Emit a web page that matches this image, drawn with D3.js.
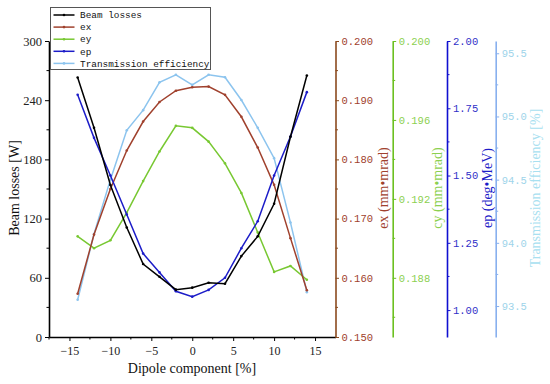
<!DOCTYPE html>
<html>
<head>
<meta charset="utf-8">
<script src="https://cdn.jsdelivr.net/npm/d3@7"></script>
<style>
  body { margin: 0; background: #fff; }
  svg { display: block; }
</style>
</head>
<body>
<div id="chart"></div>
<script>
// data
const dipole = [-14, -12, -10, -8, -6, -4, -2, 0, 2, 4, 6, 8, 10, 12, 14];
const beamLosses = [263, 212, 154, 111, 74, 61, 48, 50, 55, 54, 82, 102, 135, 203, 265];
const ex = [0.1573, 0.1673, 0.1750, 0.1815, 0.1864, 0.1897, 0.1916, 0.1922, 0.1923, 0.1909, 0.1872, 0.1820, 0.1757, 0.1667, 0.1579];
const ey = [0.1901, 0.1895, 0.1899, 0.1913, 0.1929, 0.1944, 0.1957, 0.1956, 0.1949, 0.1938, 0.1923, 0.1903, 0.1883, 0.1886, 0.1879];
const ep = [1.80, 1.64, 1.50, 1.355, 1.21, 1.14, 1.07, 1.05, 1.075, 1.12, 1.23, 1.33, 1.50, 1.645, 1.81];
const trans = [93.55, 94.07, 94.50, 94.89, 95.05, 95.27, 95.33, 95.25, 95.33, 95.31, 95.13, 94.91, 94.67, 94.16, 93.61];

const xTicks = [-15, -10, -5, 0, 5, 10, 15];
const lossTicks = [0, 60, 120, 180, 240, 300];
const exTicks = [0.15, 0.16, 0.17, 0.18, 0.19, 0.20];
const eyTicks = [0.188, 0.192, 0.196, 0.200];
const epTicks = [1.00, 1.25, 1.50, 1.75, 2.00];
const trTicks = [93.5, 94.0, 94.5, 95.0, 95.5];
const legendNames = ["Beam losses", "ex", "ey", "ep", "Transmission efficiency"];

var w = 550, h = 384;
var L = 49, R = 335.5, T = 41, B = 337;
var SERIF = '"Liberation Serif", "Times New Roman", serif';
var MONO = '"Liberation Mono", "DejaVu Sans Mono", monospace';

var svg = d3.select("#chart").append("svg").attr("width", w).attr("height", h);

var x = d3.scaleLinear().domain([-17.5, 17.5]).range([L, R]);
var yLoss = d3.scaleLinear().domain([0, 300]).range([B, T]);
var yEx = d3.scaleLinear().domain([0.15, 0.20]).range([B, T]);
var yEy = d3.scaleLinear().domain([0.185, 0.200]).range([B, T]);
var yEp = d3.scaleLinear().domain([0.9, 2.0]).range([B, T]);
var yTr = d3.scaleLinear().domain([93.255, 95.597]).range([B, T]);

//colors
var cBlack = "#000", cEx = "#a0412d", cEy = "#78c832", cEp = "#1c1cc8", cTr = "#8cc4ee";

// minor ticks helper: draws short ticks
function minor(g, vals, scale, dir, len, col) {
  g.selectAll(null).data(vals).enter().append("line")
    .attr(dir == "x" ? "x1" : "y1", d => scale(d))
    .attr(dir == "x" ? "x2" : "y2", d => scale(d))
    .attr(dir == "x" ? "y1" : "x1", 0)
    .attr(dir == "x" ? "y2" : "x2", len)
    .attr("stroke", col).attr("stroke-width", 1);
}

// x axis
var gx = svg.append("g").attr("transform", "translate(0," + B + ")")
  .call(d3.axisBottom(x).tickValues(xTicks).tickSize(4).tickSizeOuter(0).tickFormat(d => d < 0 ? "\u2212" + Math.abs(d) : d));
gx.select(".domain").attr("stroke-width", 1.6);
gx.selectAll("text").style("font-family", SERIF).style("font-size", "12px").attr("fill", "#222").attr("dy", "0.9em");
minor(gx, [-17.5, -12.5, -7.5, -2.5, 2.5, 7.5, 12.5], x, "x", 2.5, "#000");

// left axis
var gy = svg.append("g").attr("transform", "translate(" + L + ",0)")
  .call(d3.axisLeft(yLoss).tickValues(lossTicks).tickSize(4).tickSizeOuter(0));
gy.select(".domain").attr("stroke-width", 1.6);
gy.selectAll("text").style("font-family", SERIF).style("font-size", "12.5px").attr("fill", "#222");
minor(gy, [30, 90, 150, 210, 270], yLoss, "y", -2.5, "#000");

// right axes
function rightAxis(xpos, scale, ticks, minors, fmt, col, lcol) {
  var g = svg.append("g").attr("transform", "translate(" + xpos + ",0)")
    .call(d3.axisRight(scale).tickValues(ticks).tickSize(3.5).tickSizeOuter(0).tickFormat(fmt));
  g.select(".domain").attr("stroke", col).attr("stroke-width", 1.6);
  g.selectAll(".tick line").attr("stroke", col);
  g.selectAll("text").style("font-family", MONO).style("font-size", "10.5px").attr("fill", lcol)
    .attr("x", 6);
  minor(g, minors, scale, "y", 2.5, col);
  return g;
}
rightAxis(R, yEx, exTicks, [0.155, 0.165, 0.175, 0.185, 0.195], d3.format(".3f"), "#8b4a1e", cEx);
rightAxis(392.7, yEy, eyTicks, [0.186, 0.190, 0.194, 0.198], d3.format(".3f"), "#6cc020", "#8cd050");
rightAxis(447, yEp, epTicks, [1.125, 1.375, 1.625, 1.875], d3.format(".2f"), "#1010d0", "#3030c8");
rightAxis(495.7, yTr, trTicks, [93.75, 94.25, 94.75, 95.25], d3.format(".1f"), "#88b0ee", "#9ed4ea");

// axis titles
function vtitle(xpos, txt, col) {
  svg.append("text").style("font-family", SERIF)
    .attr("transform", "translate(" + xpos + ",188) rotate(-90)")
    .attr("text-anchor", "middle").attr("dy", "0.35em")
    .style("font-size", "14px").attr("fill", col).text(txt);
}
vtitle(14, "Beam losses [W]", "#111");
vtitle(383, "ex (mm\u2022mrad)", cEx);
vtitle(437.5, "cy (mm\u2022mrad)", "#8cd050");
vtitle(487, "ep (deg\u2022MeV)", "#1c1cc8");
vtitle(535, "Transmission efficiency [%]", "#a8e0f0");

svg.append("text").style("font-family", SERIF)
  .attr("x", 192).attr("y", 373).attr("text-anchor", "middle")
  .style("font-size", "14px").attr("fill", "#111").text("Dipole component [%]");

// series
var series = [
  { vals: beamLosses, y: yLoss, col: cBlack },
  { vals: ex, y: yEx, col: cEx },
  { vals: ey, y: yEy, col: cEy },
  { vals: ep, y: yEp, col: cEp },
  { vals: trans, y: yTr, col: cTr }
];

// draw transmission first so it sits behind
[4, 2, 1, 3, 0].forEach(function(i) {
  var s = series[i];
  var pts = dipole.map((d, j) => [d, s.vals[j]]);
  var line = d3.line().x(d => x(d[0])).y(d => s.y(d[1]));
  svg.append("path").datum(pts).attr("d", line)
    .attr("fill", "none").attr("stroke", s.col).attr("stroke-width", 1.5);
  svg.selectAll(null).data(pts).enter().append("circle")
    .attr("cx", d => x(d[0])).attr("cy", d => s.y(d[1])).attr("r", 1.3)
    .attr("fill", s.col);
});

// legend
var lg = svg.append("g").attr("transform", "translate(50.5,7.5)");
lg.append("rect").attr("width", 160).attr("height", 62)
  .attr("fill", "#fff").attr("stroke", "#555").attr("stroke-width", 1);
legendNames.forEach(function(n, i) {
  var yy = 7.5 + i * 12.1;
  lg.append("line").attr("x1", 3).attr("x2", 24).attr("y1", yy).attr("y2", yy)
    .attr("stroke", series[i].col).attr("stroke-width", 1.5);
  lg.append("circle").attr("cx", 13.5).attr("cy", yy).attr("r", 1.3).attr("fill", series[i].col);
  lg.append("text").style("font-family", MONO).attr("x", 29.5).attr("y", yy).attr("dy", "0.35em")
    .style("font-size", "9.4px").attr("fill", "#111").text(n);
});
</script>
</body>
</html>
